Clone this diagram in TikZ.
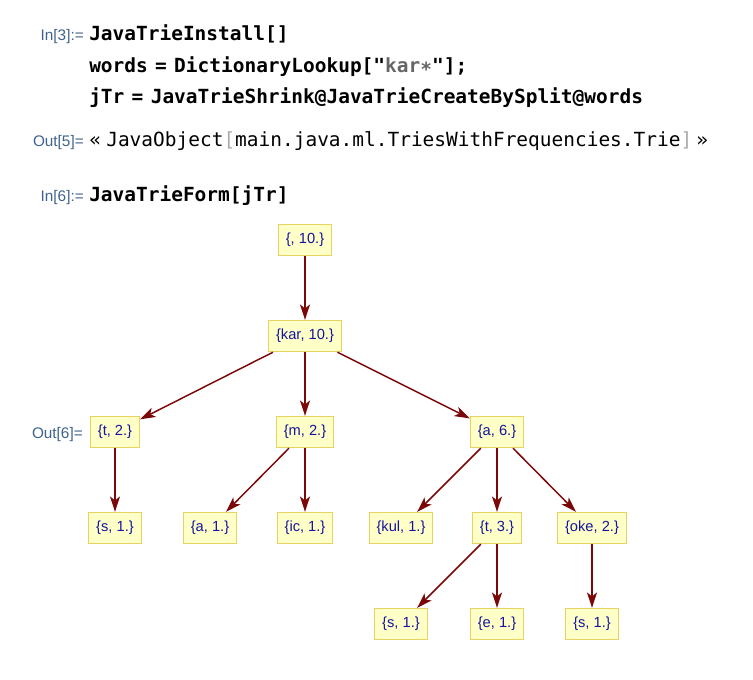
\documentclass[tikz,border=0pt]{standalone}
\usepackage{fontspec}
\setmainfont{Liberation Sans}
\newfontfamily\codefont{DejaVu Sans Mono}
\usetikzlibrary{arrows.meta}
\definecolor{lblcol}{RGB}{62,98,140}
\definecolor{edgecol}{RGB}{122,8,8}
\definecolor{boxfill}{RGB}{255,255,200}
\definecolor{boxline}{RGB}{232,210,100}
\definecolor{vtext}{RGB}{20,20,160}
\definecolor{strgray}{RGB}{102,102,102}
\definecolor{brk}{RGB}{170,170,170}
\newcommand\eqsign{\kern5.5pt=\kern5.5pt}
\begin{document}
\begin{tikzpicture}[x=0.75pt,y=-0.75pt,
  vert/.style={draw=boxline, fill=boxfill, text=vtext, font=\fontsize{11}{13}\selectfont, minimum height=23.5pt, inner xsep=5.6pt, line width=0.8pt},
  edgeline/.style={draw=edgecol, line width=1.1pt, -{Stealth[length=11.5pt,width=7.5pt,inset=3pt]}},
  incell/.style={anchor=base west, inner sep=0pt, font=\codefont\bfseries\fontsize{14.6}{16}\selectfont},
  outcell/.style={anchor=base west, inner sep=0pt, font=\codefont\fontsize{14.6}{16}\selectfont},
  celllabel/.style={anchor=base east, inner sep=0pt, text=lblcol, font=\fontsize{11.5}{13}\selectfont}]
\useasboundingbox (0,0) rectangle (753,679);

% input / output cells
\node[celllabel] (l3) at (84,40) {In[3]:=};
\node[incell] (c1) at (89,40) {JavaTrieInstall[]};
\node[incell] (c2) at (89,72) {words\eqsign DictionaryLookup["\textcolor{strgray}{kar∗}"];};
\node[incell] (c3) at (89,103) {jTr\eqsign JavaTrieShrink@JavaTrieCreateBySplit@words};
\node[celllabel] (l5) at (84,146) {Out[5]=};
\node[outcell] (o5) at (89,146) {«\kern4pt JavaObject\textcolor{brk}{[}main.java.ml.TriesWithFrequencies.Trie\textcolor{brk}{]}\kern3pt»};
\node[celllabel] (l6) at (84,201) {In[6]:=};
\node[incell] (c6) at (89,201) {JavaTrieForm[jTr]};
\node[celllabel] (lo6) at (83,438) {Out[6]=};

% tree
\node[vert] (r) at (305,240) {\{, 10.\}};
\node[vert] (kar) at (305,336) {\{kar, 10.\}};
\node[vert] (t2) at (115,432) {\{t, 2.\}};
\node[vert] (m2) at (305,432) {\{m, 2.\}};
\node[vert] (a6) at (497,432) {\{a, 6.\}};
\node[vert] (s1a) at (115,528) {\{s, 1.\}};
\node[vert] (a1) at (210,528) {\{a, 1.\}};
\node[vert] (ic1) at (305,528) {\{ic, 1.\}};
\node[vert] (kul1) at (401,528) {\{kul, 1.\}};
\node[vert] (t3) at (497,528) {\{t, 3.\}};
\node[vert] (oke2) at (592,528) {\{oke, 2.\}};
\node[vert] (s1b) at (401,624) {\{s, 1.\}};
\node[vert] (e1) at (497,624) {\{e, 1.\}};
\node[vert] (s1c) at (592,624) {\{s, 1.\}};

\draw[edgeline] (r) -- (kar);
\draw[edgeline] (kar) -- (t2);
\draw[edgeline] (kar) -- (m2);
\draw[edgeline] (kar) -- (a6);
\draw[edgeline] (t2) -- (s1a);
\draw[edgeline] (m2) -- (a1);
\draw[edgeline] (m2) -- (ic1);
\draw[edgeline] (a6) -- (kul1);
\draw[edgeline] (a6) -- (t3);
\draw[edgeline] (a6) -- (oke2);
\draw[edgeline] (t3) -- (s1b);
\draw[edgeline] (t3) -- (e1);
\draw[edgeline] (oke2) -- (s1c);
\end{tikzpicture}
\end{document}
